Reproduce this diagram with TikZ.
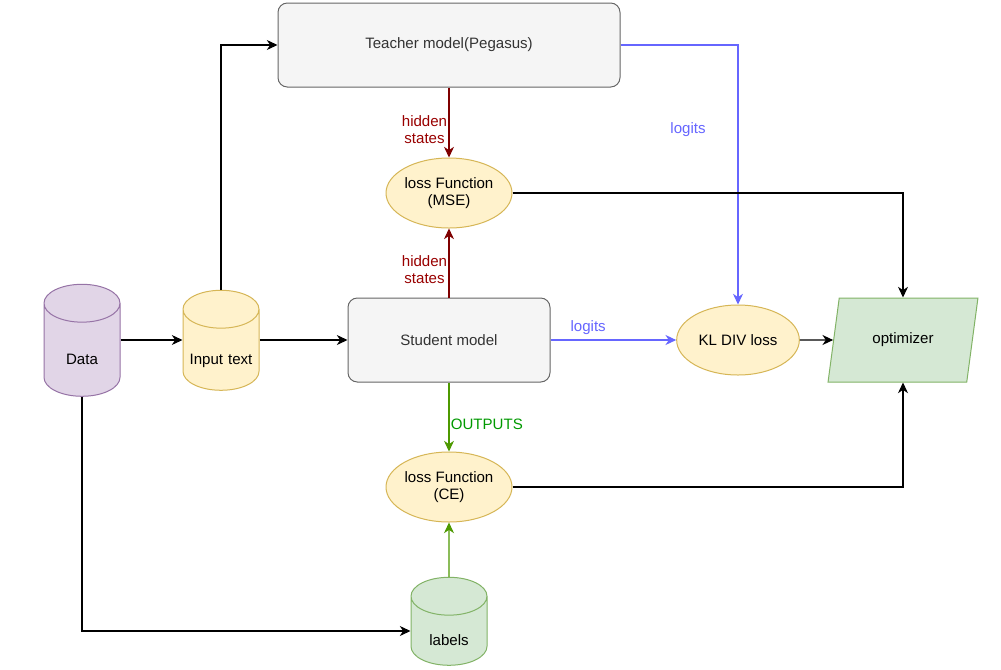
\documentclass[tikz,border=0pt]{standalone}
\usepackage{fontspec}
\setmainfont{Liberation Sans}
\usetikzlibrary{shapes.geometric,arrows.meta}

\definecolor{boxfill}{HTML}{F5F5F5}
\definecolor{boxline}{HTML}{666666}
\definecolor{boxtext}{HTML}{333333}
\definecolor{lossfill}{HTML}{FFF2CC}
\definecolor{lossline}{HTML}{D6B656}
\definecolor{greenfill}{HTML}{D5E8D4}
\definecolor{greenline}{HTML}{82B366}
\definecolor{purplefill}{HTML}{E1D5E7}
\definecolor{purpleline}{HTML}{9673A6}
\definecolor{hiddenline}{HTML}{7F0000}
\definecolor{hiddentext}{HTML}{990000}
\definecolor{logitline}{HTML}{6666FF}
\definecolor{outline}{HTML}{4D9900}
\definecolor{outtext}{HTML}{009900}

\newcommand{\lowtext}[1]{\raisebox{-10.5pt}[0pt][0pt]{\makebox[0pt]{#1}}}

\tikzset{
  model/.style={rectangle, rounded corners=7pt, draw=boxline, fill=boxfill, text=boxtext, minimum height=63pt},
  lossfn/.style={ellipse, draw=lossline, fill=lossfill, align=center, minimum width=94.5pt, minimum height=52.5pt, inner sep=0pt},
  store/.style={cylinder, shape border rotate=90, aspect=0.71, inner sep=0pt, text width=40pt, align=center},
  link/.style={-{Stealth[length=8pt,width=7.5pt,inset=2.5pt]}, line width=0.8pt},
}

\begin{document}
\begin{tikzpicture}[x=0.75pt, y=-0.75pt, font=\fontsize{11.3}{13}\selectfont, line width=0.75pt]
            \fill[white] (0,0) rectangle (1001,669);
            \useasboundingbox (0,0) rectangle (1001,669);
            \node[model, minimum width=256.5pt] (teacher) at (449,45) {Teacher model(Pegasus)};
            \node[model, minimum width=151.5pt] (student) at (449,340) {Student model};
            \node[lossfn] (mse) at (449,193) {loss Function\\(MSE)};
            \node[lossfn] (ce) at (449,487) {loss Function\\(CE)};
            \node[lossfn, minimum width=92pt] (kl) at (738,340) {KL DIV loss};
            \node[trapezium, trapezium left angle=75, trapezium right angle=105, trapezium stretches=true,
                  minimum width=112.5pt, minimum height=63pt, draw=greenline, fill=greenfill] (opt) at (903,340) {optimizer};
            \node[store, draw=purpleline, fill=purplefill, minimum width=57pt, minimum height=84pt] (data) at (82,350) {\lowtext{Data}};
            \node[store, draw=lossline, fill=lossfill, minimum width=57pt, minimum height=75pt] (input) at (221,350) {\lowtext{Input text}};
            \node[store, draw=greenline, fill=greenfill, minimum width=57pt, minimum height=66pt] (labels) at (449,631) {\lowtext{labels}};
            \node[text=logitline] (tlogits) at (688,130) {logits};

            \draw[link] (data.east |- student.west) -- (input.west |- student.west);
            \draw[link] (input.north) |- (teacher.west);
            \draw[link] (input.east |- student.west) -- (student.west);
            \draw[link, hiddenline] (teacher) -- node[pos=0.6, left, align=center, text=hiddentext, inner sep=1pt] {hidden\\states} (mse);
            \draw[link, hiddenline] (student) -- node[pos=0.4, left, align=center, text=hiddentext, inner sep=1pt] {hidden\\states} (mse);
            \draw[link, logitline] (teacher.east) -| (kl.north);
            \draw[link, logitline] (student.east) -- node[pos=0.3, above, text=logitline] {logits} (kl.west);
            \draw[link] (kl) -- (opt.west);
            \draw[link] (mse.east) -| (opt.north);
            \draw[link] (ce.east) -| (opt.south);
            \draw[link, outline] (student) -- node[pos=0.6, right, text=outtext, inner sep=1pt] {OUTPUTS} (ce);
            \draw[link, outline] (labels) -- (ce);
            \draw[link] (data.south) |- (labels.west);
        \end{tikzpicture}
\end{document}
